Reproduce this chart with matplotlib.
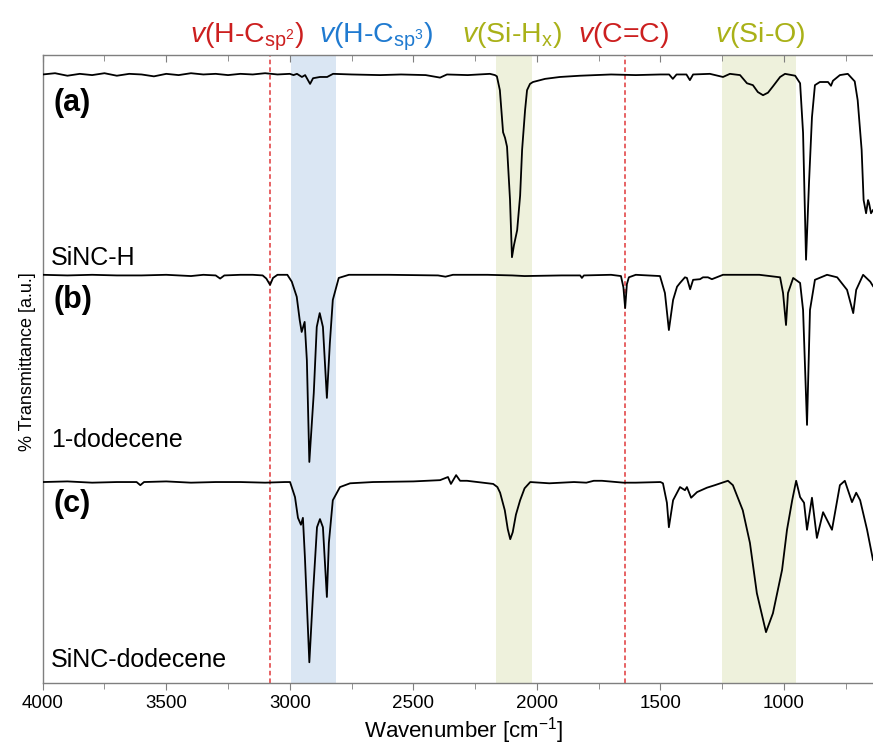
import matplotlib
matplotlib.use("Agg")
import matplotlib.pyplot as plt
import matplotlib.transforms as mtransforms

plt.rcParams['font.family'] = ['Liberation Sans', 'DejaVu Sans']
plt.rcParams['mathtext.fontset'] = 'custom'
plt.rcParams['mathtext.rm'] = 'Liberation Sans'
plt.rcParams['mathtext.it'] = 'Liberation Sans:italic'
plt.rcParams['mathtext.bf'] = 'Liberation Sans:bold'

# ---------------- data ----------------
wn_a = [4000, 3950, 3900, 3850, 3800, 3750, 3700, 3650, 3600, 3550, 3500, 3450, 3400, 3350, 3300,
        3250, 3200, 3150, 3100, 3050, 3000, 2985, 2971, 2951, 2938, 2918, 2906, 2878, 2849, 2825,
        2750, 2635, 2550, 2450, 2392, 2364, 2280, 2190, 2170, 2162, 2150, 2137, 2129, 2121, 2109,
        2101, 2093, 2080, 2068, 2060, 2048, 2040, 2028, 2016, 1967, 1907, 1826, 1700, 1600, 1500,
        1465, 1450, 1435, 1395, 1381, 1368, 1300, 1247, 1219, 1178, 1150, 1126, 1106, 1085, 1065,
        1045, 1016, 996, 955, 935, 923, 911, 899, 887, 875, 855, 822, 810, 802, 774,
        742, 714, 702, 686, 678, 668, 660, 656, 648, 640]
t_a = [96.9, 97.1, 96.7, 97.0, 96.8, 97.1, 96.7, 97.0, 96.9, 96.6, 97.0, 96.8, 97.1, 96.9, 97.0,
       96.8, 97.0, 96.9, 97.1, 96.9, 97.0, 96.8, 97.0, 96.5, 96.8, 95.4, 96.3, 96.5, 96.5, 97.0,
       96.9, 96.8, 96.9, 96.8, 96.4, 96.9, 96.8, 97.0, 96.8, 96.6, 94.4, 87.7, 86.8, 85.4, 77.0,
       67.8, 69.7, 72.1, 77.6, 84.9, 91.2, 94.4, 95.4, 95.7, 96.2, 96.5, 96.7, 96.9, 96.8, 96.9,
       96.9, 96.2, 96.9, 96.9, 96.0, 96.9, 97.0, 96.5, 97.0, 96.8, 95.5, 95.2, 94.1, 93.6, 94.0,
       95.0, 96.5, 97.0, 96.7, 95.5, 87.6, 67.4, 79.6, 90.1, 95.2, 95.7, 95.7, 95.1, 95.9, 96.8,
       97.0, 95.8, 92.8, 84.9, 76.9, 74.8, 76.9, 76.4, 74.8, 75.3]

wn_b = [4000, 3900, 3800, 3700, 3600, 3500, 3450, 3400, 3350, 3300, 3282, 3265, 3200, 3150, 3110,
        3095, 3080, 3068, 3050, 3010, 2992, 2972, 2960, 2952, 2940, 2931, 2921, 2903, 2891, 2879,
        2866, 2850, 2838, 2826, 2802, 2761, 2600, 2400, 2370, 2340, 2200, 2100, 2050, 1900, 1825,
        1818, 1810, 1700, 1660, 1650, 1643, 1636, 1628, 1600, 1502, 1482, 1466, 1449, 1433, 1421,
        1401, 1393, 1380, 1368, 1340, 1328, 1308, 1292, 1247, 1100, 1016, 1004, 992, 984, 963,
        935, 923, 907, 895, 875, 826, 785, 745, 720, 708, 680, 651, 640]
t_b = [65.0, 64.9, 65.0, 64.9, 64.9, 65.0, 64.9, 64.8, 65.0, 64.9, 64.4, 64.9, 65.0, 65.0, 64.9,
       64.4, 63.4, 64.5, 65.0, 65.0, 63.9, 61.5, 57.8, 55.9, 57.5, 51.4, 35.2, 46.2, 56.7, 58.9,
       56.7, 45.4, 54.1, 61.0, 64.5, 65.0, 65.0, 64.9, 64.7, 65.0, 65.0, 64.9, 64.8, 64.9, 64.9,
       64.5, 64.9, 65.0, 64.8, 63.0, 59.7, 63.5, 64.6, 65.0, 64.8, 62.1, 56.2, 61.0, 63.1, 63.7,
       64.6, 64.5, 62.7, 64.2, 64.3, 64.6, 64.6, 64.3, 65.0, 65.0, 64.6, 62.1, 57.0, 62.1, 64.5,
       63.7, 59.4, 41.1, 59.4, 64.2, 65.0, 64.6, 62.6, 58.9, 62.6, 65.0, 63.9, 63.2]

wn_c = [4000, 3900, 3800, 3700, 3620, 3605, 3590, 3500, 3400, 3300, 3200, 3100, 3020, 2999, 2979,
        2967, 2955, 2947, 2939, 2921, 2906, 2890, 2878, 2866, 2850, 2842, 2826, 2797, 2756, 2663,
        2500, 2392, 2360, 2348, 2327, 2311, 2283, 2177, 2160, 2149, 2130, 2118, 2108, 2098, 2085,
        2068, 2050, 2027, 1950, 1850, 1800, 1770, 1737, 1650, 1600, 1500, 1490, 1474, 1466, 1449,
        1421, 1401, 1393, 1376, 1352, 1312, 1280, 1250, 1227, 1207, 1167, 1138, 1110, 1073, 1045,
        1008, 988, 967, 951, 935, 919, 907, 887, 867, 842, 806, 774, 754, 725, 708,
        692, 664, 640]
t_c = [32.0, 32.1, 31.9, 32.0, 32.0, 31.5, 32.0, 32.1, 31.9, 32.0, 32.0, 31.9, 32.0, 32.0, 29.6,
       26.3, 25.2, 26.3, 20.1, 3.3, 14.3, 24.8, 26.1, 24.8, 13.7, 22.3, 29.1, 31.2, 31.8, 32.0,
       32.1, 32.3, 32.8, 31.7, 33.1, 32.2, 32.2, 31.7, 31.2, 30.3, 27.5, 24.5, 22.9, 24.0, 26.8,
       29.1, 31.0, 32.0, 31.8, 32.0, 31.9, 32.2, 32.2, 31.9, 31.9, 32.0, 31.8, 28.7, 24.8, 29.1,
       31.2, 30.7, 31.2, 29.5, 30.4, 31.1, 31.5, 31.9, 32.2, 31.5, 27.5, 22.3, 14.3, 8.1, 11.1,
       18.0, 24.4, 29.1, 32.2, 29.6, 28.7, 24.4, 29.5, 23.1, 27.2, 24.4, 31.5, 32.2, 28.8, 30.3,
       29.1, 24.4, 19.6]

spectra = [(wn_a, t_a), (wn_b, t_b), (wn_c, t_c)]
letters = ['(a)', '(b)', '(c)']
letter_y = [92.4, 61.0, 28.5]
names = ['SiNC-H', '1-dodecene', 'SiNC-dodecene']
name_y = [67.7, 38.7, 3.7]

dashed_lines = [3080, 1645]
blue_band = (2995, 2815)
olive_bands = [(2165, 2020), (1250, 950)]

red = '#cc1f1f'
blue = '#1f7ad0'
olive = '#a9b118'
annotations = [
    (3173, r'$\mathit{v}$(H-C$_{\mathrm{sp}^{2}}$)', red),
    (2651, r'$\mathit{v}$(H-C$_{\mathrm{sp}^{3}}$)', blue),
    (2101, r'$\mathit{v}$(Si-H$_{\mathrm{x}}$)', olive),
    (1648, r'$\mathit{v}$(C=C)', red),
    (1097, r'$\mathit{v}$(Si-O)', olive),
]

# ---------------- figure ----------------
fig = plt.figure(figsize=(8.73, 7.49), dpi=100)
ax = fig.add_axes([42.7 / 873, 66 / 749, 1 - 42.7 / 873, 628 / 749])
ax.set_xlim(4000, 640)
ax.set_ylim(0, 100)

ax.axvspan(*blue_band, color='#dae6f3', lw=0, zorder=0)
for b in olive_bands:
    ax.axvspan(*b, color='#eef1dc', lw=0, zorder=0)
for x in dashed_lines:
    ax.axvline(x, color='#e0383a', lw=1.1, ls=(0, (3, 2)), zorder=1)

for wn, t in spectra:
    ax.plot(wn, t, color='black', lw=1.3, zorder=3)

for txt, y in zip(letters, letter_y):
    ax.text(3958, y, txt, fontsize=22, fontweight='bold', va='center', ha='left')
for txt, y in zip(names, name_y):
    ax.text(3966, y, txt, fontsize=18, va='center', ha='left')

trans = mtransforms.blended_transform_factory(ax.transData, ax.transAxes)
for x, txt, c in annotations:
    ax.text(x, 1.0207, txt, transform=trans, fontsize=20.5, color=c,
            ha='center', va='baseline', clip_on=False)

# axes styling
for s in ['left', 'bottom', 'top']:
    ax.spines[s].set_color('#7f7f7f')
    ax.spines[s].set_linewidth(1.0)
ax.spines['right'].set_visible(False)
ax.set_yticks([])
ax.set_xticks([4000, 3500, 3000, 2500, 2000, 1500, 1000])
ax.set_xticks([3750, 3250, 2750, 2250, 1750, 1250, 750], minor=True)
ax.tick_params(axis='x', which='both', direction='out', color='#7f7f7f', top=True,
               labelsize=13.5, pad=4)
ax.tick_params(axis='x', which='major', length=5)
ax.tick_params(axis='x', which='minor', length=4)
# top ticks point inward
for tk in ax.xaxis.get_major_ticks() + ax.xaxis.get_minor_ticks():
    tk.tick2line.set_marker(3)  # TICKDOWN

fig.text(0.531, 0.024, r'Wavenumber [cm$^{-1}$]', fontsize=16, ha='center', va='center')
fig.text(28 / 873, (749 - 362) / 749, '% Transmittance [a.u.]', fontsize=13, rotation=90,
         ha='center', va='center')

fig.savefig('out.png', dpi=100)
